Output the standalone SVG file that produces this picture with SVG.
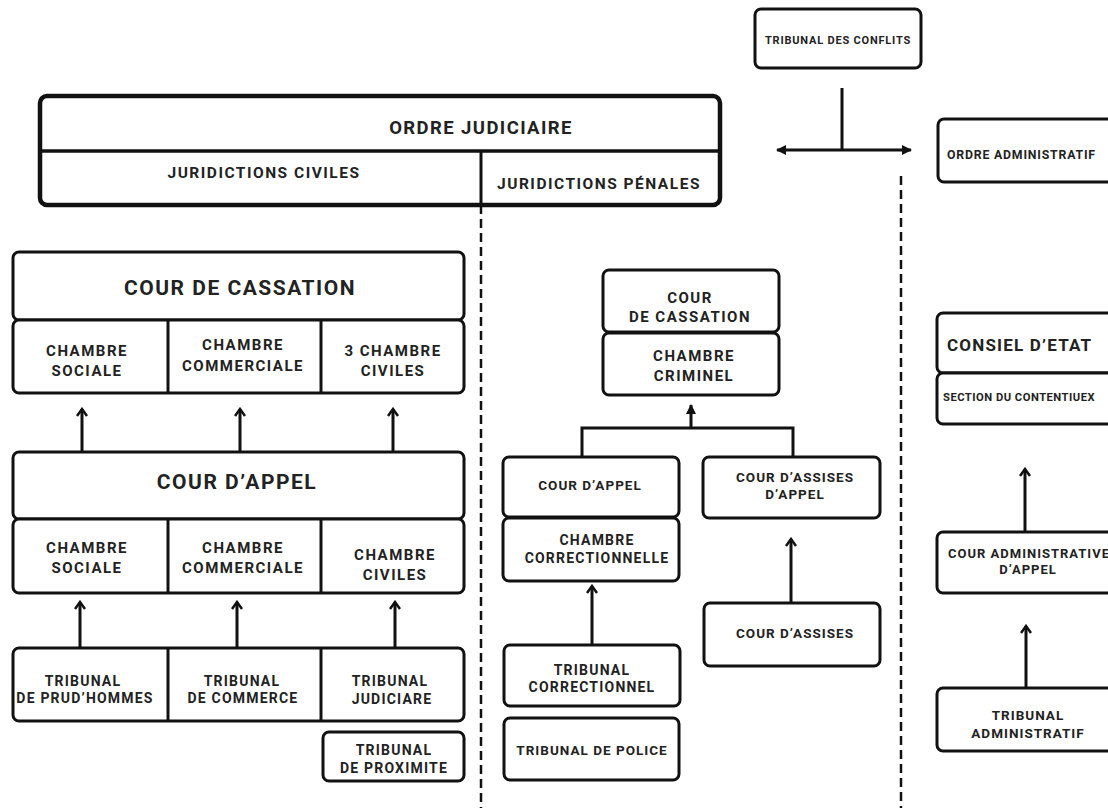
<svg xmlns="http://www.w3.org/2000/svg" width="1108" height="808" viewBox="0 0 1108 808">
<style>
.b{fill:#fff;stroke:#111;stroke-width:3}
.bt{fill:#fff;stroke:#111;stroke-width:4.5}
.ln{stroke:#111;stroke-width:3;fill:none}
.dash{stroke:#111;stroke-width:2.5;stroke-dasharray:9,5;fill:none}
text{font-family:Roboto,"Liberation Sans",sans-serif;font-weight:700;fill:#222;text-anchor:middle;dominant-baseline:central}
.t15{font-size:15px;letter-spacing:1.5px}
.t14{font-size:14px;letter-spacing:1.2px}
.t13{font-size:13.5px;letter-spacing:1px}
.t11{font-size:11px;letter-spacing:0.8px}
.big{font-size:21px;letter-spacing:1.5px}
.h17{font-size:17px;letter-spacing:1.2px}
.hd{font-size:15.5px;letter-spacing:1.5px}
.st{text-anchor:start}
</style>
<defs>
<marker id="chev" viewBox="0 0 12 12" refX="10" refY="6" markerWidth="12" markerHeight="12" markerUnits="userSpaceOnUse" orient="auto">
<path d="M3,1 L10,6 L3,11" fill="none" stroke="#111" stroke-width="2.5"/>
</marker>
<marker id="tri" viewBox="0 0 12 12" refX="10" refY="6" markerWidth="12" markerHeight="12" markerUnits="userSpaceOnUse" orient="auto-start-reverse">
<path d="M1,1 L11,6 L1,11 Z" fill="#111"/>
</marker>
</defs>

<g id="separators">
<line class="dash" x1="481" y1="205" x2="481" y2="808"/>
<line class="dash" x1="901" y1="176" x2="901" y2="808"/>
</g>

<g id="ordre-judiciaire">
<rect class="bt" x="40" y="96" width="680" height="109" rx="7"/>
<line class="ln" x1="40" y1="151" x2="720" y2="151" style="stroke-width:3.5"/>
<line class="ln" x1="481" y1="151" x2="481" y2="205"/>
<text class="h17" x="481" y="128" style="font-size:18.5px;letter-spacing:1.4px">ORDRE JUDICIAIRE</text>
<text class="hd" x="264" y="173">JURIDICTIONS CIVILES</text>
<text class="hd" x="599" y="184">JURIDICTIONS PÉNALES</text>
</g>

<g id="tribunal-conflits">
<rect class="b" x="755" y="9" width="166" height="59" rx="6"/>
<text class="t11" x="838" y="40">TRIBUNAL DES CONFLITS</text>
</g>

<g id="ordre-administratif">
<rect class="b" x="938" y="119" width="190" height="63" rx="6"/>
<text class="t11 st" x="947" y="155" style="font-size:12.3px">ORDRE ADMINISTRATIF</text>
</g>

<g id="civ-cour-cassation">
<rect class="b" x="13" y="252" width="451" height="68" rx="6"/>
<rect class="b" x="13" y="320" width="451" height="73" rx="6"/>
<line class="ln" x1="168" y1="320" x2="168" y2="393"/>
<line class="ln" x1="321" y1="320" x2="321" y2="393"/>
<text class="big" x="240" y="288">COUR DE CASSATION</text>
<text class="t15" x="87" y="351">CHAMBRE</text>
<text class="t15" x="87" y="371">SOCIALE</text>
<text class="t15" x="243" y="345">CHAMBRE</text>
<text class="t15" x="243" y="366">COMMERCIALE</text>
<text class="t15" x="393" y="351">3 CHAMBRE</text>
<text class="t15" x="393" y="371">CIVILES</text>
</g>

<g id="civ-cour-appel">
<rect class="b" x="13" y="452" width="451" height="67" rx="6"/>
<rect class="b" x="13" y="519" width="451" height="74" rx="6"/>
<line class="ln" x1="168" y1="519" x2="168" y2="593"/>
<line class="ln" x1="321" y1="519" x2="321" y2="593"/>
<text class="big" x="237" y="482">COUR D’APPEL</text>
<text class="t15" x="87" y="548">CHAMBRE</text>
<text class="t15" x="87" y="568">SOCIALE</text>
<text class="t15" x="243" y="548">CHAMBRE</text>
<text class="t15" x="243" y="568">COMMERCIALE</text>
<text class="t15" x="395" y="555">CHAMBRE</text>
<text class="t15" x="395" y="575">CIVILES</text>
</g>

<g id="civ-tribunaux">
<rect class="b" x="13" y="648" width="451" height="73" rx="6"/>
<line class="ln" x1="168" y1="648" x2="168" y2="721"/>
<line class="ln" x1="321" y1="648" x2="321" y2="721"/>
<text class="t14" x="83" y="681">TRIBUNAL</text>
<text class="t14" x="85" y="698">DE PRUD’HOMMES</text>
<text class="t14" x="242" y="681">TRIBUNAL</text>
<text class="t14" x="243" y="698">DE COMMERCE</text>
<text class="t14" x="390" y="681">TRIBUNAL</text>
<text class="t14" x="392" y="699">JUDICIARE</text>
</g>

<g id="civ-tribunal-proximite">
<rect class="b" x="323" y="732" width="141" height="49" rx="6"/>
<text class="t14" x="394" y="750">TRIBUNAL</text>
<text class="t14" x="394" y="768">DE PROXIMITE</text>
</g>

<g id="pen-cour-cassation">
<rect class="b" x="603" y="270" width="176" height="62" rx="6"/>
<rect class="b" x="603" y="333" width="176" height="62" rx="6"/>
<text class="t15" x="690" y="298">COUR</text>
<text class="t15" x="690" y="317">DE CASSATION</text>
<text class="t15" x="694" y="356">CHAMBRE</text>
<text class="t15" x="694" y="376">CRIMINEL</text>
</g>

<g id="pen-cour-appel">
<rect class="b" x="503" y="457" width="176" height="60" rx="6"/>
<text class="t13" x="590" y="485">COUR D’APPEL</text>
</g>

<g id="pen-chambre-correctionnelle">
<rect class="b" x="503" y="518" width="176" height="63" rx="6"/>
<text class="t14" x="597" y="540">CHAMBRE</text>
<text class="t14" x="597" y="558">CORRECTIONNELLE</text>
</g>

<g id="pen-cour-assises-appel">
<rect class="b" x="703" y="457" width="177" height="61" rx="6"/>
<text class="t13" x="795" y="477">COUR D’ASSISES</text>
<text class="t13" x="795" y="494">D’APPEL</text>
</g>

<g id="pen-tribunal-correctionnel">
<rect class="b" x="504" y="645" width="176" height="61" rx="6"/>
<text class="t14" x="592" y="670">TRIBUNAL</text>
<text class="t14" x="592" y="687">CORRECTIONNEL</text>
</g>

<g id="pen-tribunal-police">
<rect class="b" x="504" y="718" width="175" height="62" rx="6"/>
<text class="t13" x="592" y="750">TRIBUNAL DE POLICE</text>
</g>

<g id="pen-cour-assises">
<rect class="b" x="704" y="603" width="176" height="63" rx="6"/>
<text class="t13" x="795" y="633">COUR D’ASSISES</text>
</g>

<g id="adm-conseil-etat">
<rect class="b" x="937" y="313" width="190" height="60" rx="6"/>
<rect class="b" x="937" y="373" width="190" height="51" rx="6"/>
<text class="h17 st" x="947" y="345">CONSIEL D’ETAT</text>
<text class="t11 st" x="943" y="397" style="font-size:11.2px;letter-spacing:0.5px">SECTION DU CONTENTIUEX</text>
</g>

<g id="adm-cour-administrative">
<rect class="b" x="937" y="532" width="190" height="61" rx="6"/>
<text class="t13" x="1029" y="553" style="font-size:13px">COUR ADMINISTRATIVE</text>
<text class="t13" x="1028" y="569" style="font-size:13px">D’APPEL</text>
</g>

<g id="adm-tribunal-administratif">
<rect class="b" x="937" y="688" width="190" height="63" rx="6"/>
<text class="t13" x="1028" y="715">TRIBUNAL</text>
<text class="t13" x="1028" y="733">ADMINISTRATIF</text>
</g>

<g id="connectors">
<line class="ln" x1="842" y1="88" x2="842" y2="150"/>
<line class="ln" x1="777" y1="150" x2="911" y2="150" marker-start="url(#tri)" marker-end="url(#tri)"/>
<line class="ln" x1="82" y1="452" x2="82" y2="409" marker-end="url(#chev)"/>
<line class="ln" x1="240" y1="452" x2="240" y2="409" marker-end="url(#chev)"/>
<line class="ln" x1="393" y1="452" x2="393" y2="409" marker-end="url(#chev)"/>
<line class="ln" x1="80" y1="648" x2="80" y2="602" marker-end="url(#chev)"/>
<line class="ln" x1="237" y1="648" x2="237" y2="602" marker-end="url(#chev)"/>
<line class="ln" x1="395" y1="648" x2="395" y2="602" marker-end="url(#chev)"/>
<polyline class="ln" points="582,457 582,428 793,428 793,457"/>
<line class="ln" x1="691" y1="428" x2="691" y2="405" marker-end="url(#tri)"/>
<line class="ln" x1="592" y1="645" x2="592" y2="586" marker-end="url(#chev)"/>
<line class="ln" x1="791" y1="603" x2="791" y2="539" marker-end="url(#chev)"/>
<line class="ln" x1="1025" y1="532" x2="1025" y2="469" marker-end="url(#chev)"/>
<line class="ln" x1="1026" y1="688" x2="1026" y2="626" marker-end="url(#chev)"/>
</g>
</svg>
